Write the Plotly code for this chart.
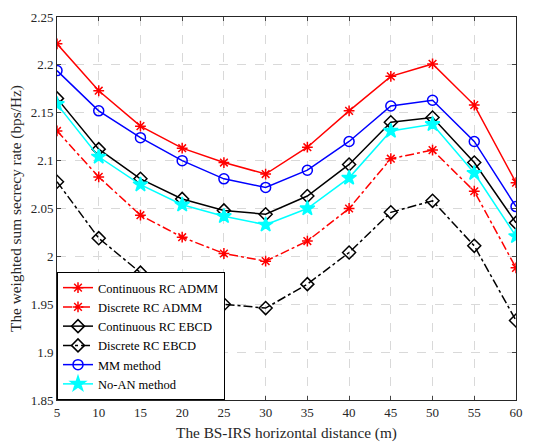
import plotly.graph_objects as go

distance = [5, 10, 15, 20, 25, 30, 35, 40, 45, 50, 55, 60]
cont_admm = [2.222, 2.173, 2.136, 2.113, 2.098, 2.086, 2.114, 2.152, 2.188, 2.201, 2.158, 2.077]
disc_admm = [2.131, 2.083, 2.043, 2.020, 2.003, 1.995, 2.016, 2.050, 2.102, 2.111, 2.068, 1.988]
cont_ebcd = [2.165, 2.112, 2.081, 2.060, 2.048, 2.044, 2.063, 2.096, 2.140, 2.145, 2.098, 2.035]
disc_ebcd = [2.078, 2.019, 1.983, 1.960, 1.950, 1.946, 1.971, 2.004, 2.046, 2.058, 2.011, 1.933]
mm_method = [2.194, 2.152, 2.124, 2.100, 2.081, 2.072, 2.090, 2.120, 2.157, 2.163, 2.120, 2.052]
no_an = [2.159, 2.104, 2.075, 2.054, 2.042, 2.033, 2.050, 2.082, 2.131, 2.138, 2.087, 2.021]

y_ticks = [1.85, 1.9, 1.95, 2.0, 2.05, 2.1, 2.15, 2.2, 2.25]
y_labels = ["1.85", "1.9", "1.95", "2", "2.05", "2.1", "2.15", "2.2", "2.25"]
x_ticks = distance

series = [
    ("Continuous RC ADMM", cont_admm, "red", "solid", "asterisk-open", 9),
    ("Discrete RC ADMM", disc_admm, "red", "dashdot", "asterisk-open", 9),
    ("Continuous RC EBCD", cont_ebcd, "black", "solid", "diamond-open", 10),
    ("Discrete RC EBCD", disc_ebcd, "black", "dashdot", "diamond-open", 10),
    ("MM method", mm_method, "blue", "solid", "circle-open", 10),
    ("No-AN method", no_an, "cyan", "solid", "star", 11),
]

fig = go.Figure()
for name, vals, color, dash, sym, size in series:
    fig.add_trace(go.Scatter(
        x=distance, y=vals, name=name, mode="lines+markers",
        line=dict(color=color, width=1.5, dash=dash),
        marker=dict(symbol=sym, size=size, color=color, line=dict(color=color, width=1.5)),
    ))

font_fam = "Liberation Serif"
fig.update_layout(
    width=541, height=448,
    margin=dict(l=57, r=25, t=10, b=45),
    paper_bgcolor="white", plot_bgcolor="white",
    font=dict(family=font_fam, size=13, color="#262626"),
    showlegend=True,
    legend=dict(x=0, y=0, xanchor="left", yanchor="bottom",
                bgcolor="white", bordercolor="black", borderwidth=1,
                font=dict(family=font_fam, size=12.5, color="black"),
                tracegroupgap=0, itemwidth=30),
    xaxis=dict(range=[5, 60], tickvals=x_ticks, ticks="inside", ticklen=4,
               showline=True, linecolor="#262626", linewidth=1, mirror="ticks",
               showgrid=True, gridcolor="#d9d9d9", griddash="dash", zeroline=False,
               title=dict(text="The BS-IRS horizontal distance (m)", font=dict(family=font_fam, size=15.3), standoff=8),
               tickfont=dict(family=font_fam, size=13)),
    yaxis=dict(range=[1.85, 2.25], tickvals=y_ticks, ticktext=y_labels, ticks="inside", ticklen=4,
               showline=True, linecolor="#262626", linewidth=1, mirror="ticks",
               showgrid=True, gridcolor="#d9d9d9", griddash="dash", zeroline=False,
               title=dict(text="The weighted sum secrecy rate (bps/Hz)", font=dict(family=font_fam, size=15.3), standoff=5),
               tickfont=dict(family=font_fam, size=13)),
)

fig.write_html("out.html", config={"displayModeBar": False},
               post_script="document.body.style.margin='0';")
